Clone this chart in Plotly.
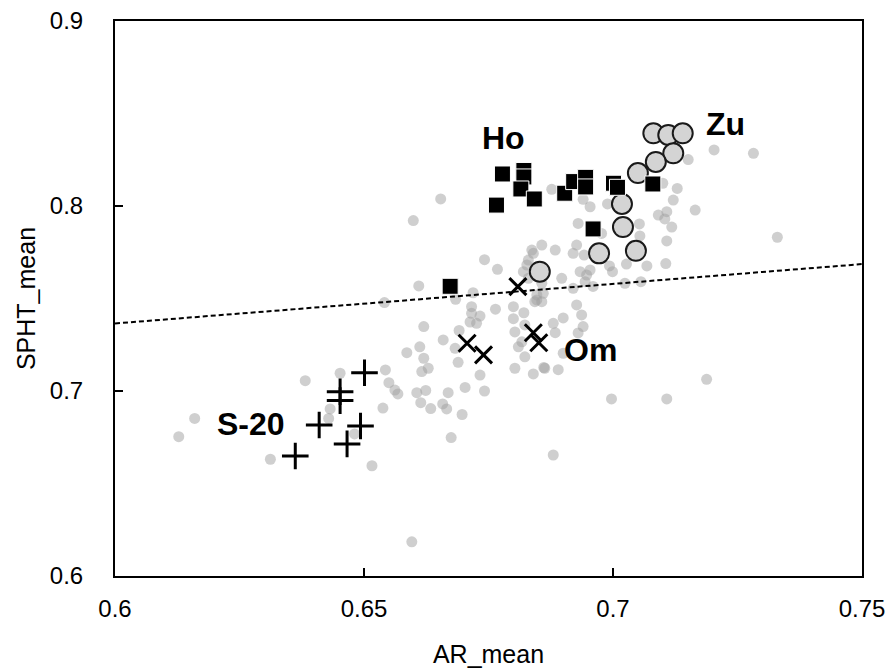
import plotly.graph_objects as go

# ---- data ----
gray_x = [0.6128, 0.6160, 0.6312, 0.6382, 0.6452, 0.6432, 0.6429, 0.6481, 0.6516, 0.6543,
          0.6550, 0.6562, 0.6538, 0.6586, 0.6541, 0.6675, 0.6596, 0.6599, 0.6654, 0.6742,
          0.6768, 0.6610, 0.6684, 0.6719, 0.6764, 0.6716, 0.6733, 0.6726, 0.6713, 0.6620,
          0.6691, 0.6659, 0.6612, 0.6620, 0.6629, 0.6616, 0.6689, 0.6733, 0.6703, 0.6742,
          0.6624, 0.6606, 0.6669, 0.6568, 0.6614, 0.6634, 0.6658, 0.6666, 0.6697, 0.6683,
          0.6800, 0.6821, 0.6843, 0.6800, 0.6803, 0.6823, 0.6817, 0.6810, 0.6823, 0.6803,
          0.6840, 0.6861, 0.6890, 0.6880, 0.6900, 0.6927, 0.6937, 0.6940, 0.6930, 0.6884,
          0.6830, 0.6840, 0.6827, 0.6820, 0.6830, 0.6860, 0.6847, 0.6897, 0.6954, 0.6947,
          0.6900, 0.6863, 0.6877, 0.6954, 0.6940, 0.6989, 0.6930, 0.6857, 0.6837, 0.6884,
          0.6920, 0.6934, 0.6944, 0.6920, 0.6927, 0.6716, 0.6847, 0.6857, 0.6960, 0.7108,
          0.7121, 0.7129, 0.7100, 0.7091, 0.7104, 0.7118, 0.7165, 0.7203, 0.7151, 0.7108,
          0.7106, 0.7068, 0.7053, 0.7054, 0.7282, 0.6993, 0.6999, 0.7027, 0.6942, 0.7330,
          0.6977, 0.7024, 0.7056, 0.6857, 0.7188, 0.6997, 0.7108, 0.6880]
gray_y = [0.6753, 0.6852, 0.6631, 0.7056, 0.7096, 0.6903, 0.6852, 0.6768, 0.6596, 0.7114,
          0.7045, 0.7005, 0.6908, 0.7207, 0.7478, 0.6748, 0.6185, 0.7921, 0.8038, 0.7710,
          0.7658, 0.7568, 0.7496, 0.7531, 0.7442, 0.7420, 0.7405, 0.7366, 0.7373, 0.7348,
          0.7327, 0.7276, 0.7239, 0.7177, 0.7123, 0.7105, 0.7155, 0.7086, 0.7019, 0.7000,
          0.7003, 0.6991, 0.6991, 0.6984, 0.6937, 0.6905, 0.6930, 0.6903, 0.6873, 0.7231,
          0.7456, 0.7423, 0.7483, 0.7391, 0.7319, 0.7357, 0.7266, 0.7239, 0.7185, 0.7123,
          0.7092, 0.7127, 0.7115, 0.7366, 0.7395, 0.7465, 0.7411, 0.7348, 0.7314, 0.7315,
          0.7708, 0.7744, 0.7681, 0.7645, 0.7609, 0.7528, 0.7492, 0.7609, 0.7654, 0.7627,
          0.7204, 0.7123, 0.8090, 0.7996, 0.8036, 0.8011, 0.7906, 0.7789, 0.7762, 0.7762,
          0.7555, 0.7645, 0.7591, 0.7744, 0.7789, 0.7456, 0.7519, 0.7483, 0.7565, 0.7969,
          0.8032, 0.8095, 0.8123, 0.7951, 0.7930, 0.7886, 0.7978, 0.8303, 0.8251, 0.7811,
          0.7689, 0.7676, 0.7903, 0.7838, 0.8285, 0.7676, 0.7645, 0.7686, 0.7735, 0.7831,
          0.7852, 0.7582, 0.7591, 0.7582, 0.7063, 0.6957, 0.6957, 0.6654]

ho_x = [0.6778, 0.6821, 0.6821, 0.6815, 0.6842, 0.6766, 0.6903, 0.6921, 0.6945, 0.6945,
        0.7001, 0.7009, 0.7080, 0.6960, 0.6673]
ho_y = [0.8173, 0.8192, 0.8157, 0.8092, 0.8038, 0.8005, 0.8069, 0.8132, 0.8155, 0.8103,
        0.8123, 0.8101, 0.8119, 0.7876, 0.7566]

zu_x = [0.7081, 0.7111, 0.7140, 0.7121, 0.7086, 0.7050, 0.7018, 0.7020, 0.7046, 0.6972, 0.6853]
zu_y = [0.8393, 0.8384, 0.8393, 0.8285, 0.8238, 0.8178, 0.8011, 0.7886, 0.7758, 0.7744, 0.7645]

om_x = [0.6809, 0.6707, 0.6740, 0.6840, 0.6851]
om_y = [0.7564, 0.7258, 0.7195, 0.7315, 0.7261]

s20_x = [0.6501, 0.6452, 0.6452, 0.6410, 0.6493, 0.6466, 0.6362]
s20_y = [0.7099, 0.6996, 0.6948, 0.6816, 0.6811, 0.6714, 0.6649]

trend_x = [0.60, 0.75]
trend_y = [0.7365, 0.7686]

label_text = ["Ho", "Zu", "Om", "S-20"]
label_x = [0.6781, 0.7225, 0.6955, 0.6274]
label_y = [0.8365, 0.8443, 0.7222, 0.6822]

x_ticks = [0.6, 0.65, 0.7, 0.75]
x_tick_text = ["0.6", "0.65", "0.7", "0.75"]
y_ticks = [0.6, 0.7, 0.8, 0.9]
y_tick_text = ["0.6", "0.7", "0.8", "0.9"]

FONT = "Liberation Sans, Arial, sans-serif"

fig = go.Figure()
fig.add_trace(go.Scatter(x=gray_x, y=gray_y, mode="markers",
                         marker=dict(size=11, color="rgba(160,160,160,0.5)", line=dict(width=0))))
fig.add_trace(go.Scatter(x=trend_x, y=trend_y, mode="lines",
                         line=dict(color="black", width=2, dash="5px,3px")))
fig.add_trace(go.Scatter(x=zu_x, y=zu_y, mode="markers",
                         marker=dict(symbol="circle", size=20, color="#d4d4d4",
                                     line=dict(color="#1a1a1a", width=2))))
fig.add_trace(go.Scatter(x=ho_x, y=ho_y, mode="markers",
                         marker=dict(symbol="square", size=16, color="black",
                                     line=dict(color="white", width=1))))
fig.add_trace(go.Scatter(x=om_x, y=om_y, mode="markers",
                         marker=dict(symbol="x-thin", size=17, color="black",
                                     line=dict(color="black", width=3))))
fig.add_trace(go.Scatter(x=s20_x, y=s20_y, mode="markers",
                         marker=dict(symbol="cross-thin", size=19, color="black",
                                     line=dict(color="black", width=3))))

for t, lx, ly in zip(label_text, label_x, label_y):
    fig.add_annotation(x=lx, y=ly, text="<b>%s</b>" % t, showarrow=False,
                       font=dict(family=FONT, size=32, color="black"),
                       xanchor="center", yanchor="middle")

fig.update_layout(
    width=891, height=668,
    margin=dict(l=115, r=29, t=21, b=92, autoexpand=False),
    paper_bgcolor="white", plot_bgcolor="white",
    showlegend=False,
    font=dict(family=FONT, size=24, color="black"),
)
fig.update_xaxes(range=[0.6, 0.75], tickvals=x_ticks, ticktext=x_tick_text,
                 showgrid=False, zeroline=False, showline=True, mirror=True,
                 linecolor="black", linewidth=2, ticks="inside", ticklen=8,
                 tickwidth=2, tickcolor="black", ticklabelstandoff=10, automargin=False,
                 title=dict(text="AR_mean", font=dict(size=25), standoff=29))
fig.update_yaxes(range=[0.6, 0.9], tickvals=y_ticks, ticktext=y_tick_text,
                 showgrid=False, zeroline=False, showline=True, mirror=True,
                 linecolor="black", linewidth=2, ticks="inside", ticklen=8,
                 tickwidth=2, tickcolor="black", ticklabelstandoff=25, automargin=False,
                 title=dict(text="SPHT_mean", font=dict(size=25), standoff=7))

fig.write_html("out.html", config={"displayModeBar": False},
               post_script="document.body.style.margin='0';")
